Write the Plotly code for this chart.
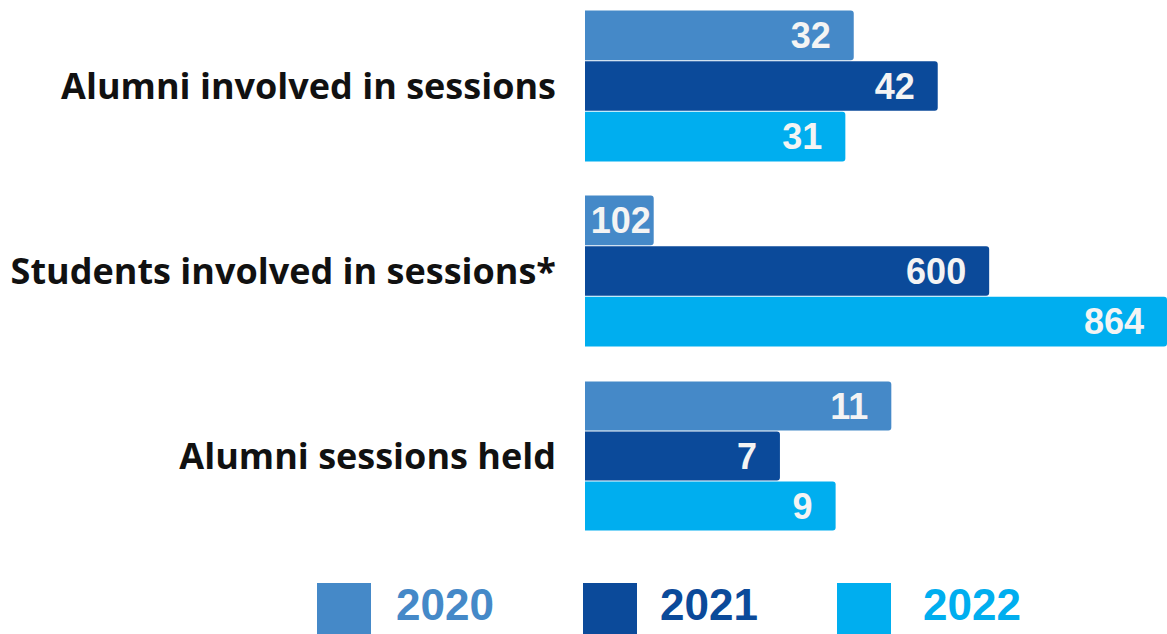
import plotly.graph_objects as go
from plotly.subplots import make_subplots

categories = ["Alumni involved in sessions", "Students involved in sessions*", "Alumni sessions held"]
years = ["2020", "2021", "2022"]
values = {
    "2020": [32, 102, 11],
    "2021": [42, 600, 7],
    "2022": [31, 864, 9],
}
colors = {"2020": "#4589C8", "2021": "#0B4A9A", "2022": "#00AEEF"}
# each group is drawn on its own scale
x_ranges = [69.3, 864, 20.9]

W, H = 1167, 634
fig = make_subplots(rows=3, cols=1, shared_xaxes=False, vertical_spacing=0.05)

for r, cat in enumerate(categories):
    for yr in years:
        v = values[yr][r]
        # add a little right padding when the bar is long enough
        pad = "\u00a0\u00a0" if v / x_ranges[r] > 0.2 else ""
        fig.add_trace(go.Bar(
            x=[v], y=[cat], orientation="h", name=yr,
            marker=dict(color=colors[yr], line=dict(width=0)),
            text=[str(v) + pad], textposition="inside", insidetextanchor="end",
            textfont=dict(family="Liberation Sans", size=36, color="#F4F4F4", weight="bold"),
            showlegend=False, hoverinfo="skip", cliponaxis=False,
        ), row=r + 1, col=1)

# row domains in pixels (top, bottom)
rows_px = [(10, 162), (195, 347), (381, 531)]
x0 = 585 / W
for r, (top, bot) in enumerate(rows_px):
    sfx = "" if r == 0 else str(r + 1)
    fig.layout["xaxis" + sfx].update(domain=[x0, 1], range=[0, x_ranges[r]], visible=False, fixedrange=True)
    fig.layout["yaxis" + sfx].update(
        domain=[1 - bot / H, 1 - top / H], range=[0.5, -0.5],
        showgrid=False, zeroline=False, showline=False, ticks="",
        ticklabelstandoff=28, fixedrange=True,
        tickfont=dict(family="Open Sans", size=36, color="#111111", weight="bold"),
    )

# custom legend
leg_sq_x = [317, 583, 837]
leg_txt_x = [394, 658, 921]
for i, yr in enumerate(years):
    fig.add_shape(type="rect", xref="paper", yref="paper",
                  x0=leg_sq_x[i] / W, x1=(leg_sq_x[i] + 54) / W,
                  y0=0, y1=1 - 583 / H,
                  fillcolor=colors[yr], line=dict(width=0))
    fig.add_annotation(xref="paper", yref="paper", x=leg_txt_x[i] / W, y=1 - 604 / H,
                       xanchor="left", yanchor="middle", text=yr, showarrow=False,
                       font=dict(family="Liberation Sans", size=44, color=colors[yr], weight="bold"))

fig.update_layout(
    width=W, height=H, margin=dict(l=0, r=0, t=0, b=0),
    barmode="group", bargap=0, bargroupgap=0.02, barcornerradius=3,
    plot_bgcolor="white", paper_bgcolor="white",
    uniformtext=dict(mode=False),
)

fig.write_html("out.html", config={"displayModeBar": False},
               post_script="document.body.style.margin='0';document.body.style.overflow='hidden';")
